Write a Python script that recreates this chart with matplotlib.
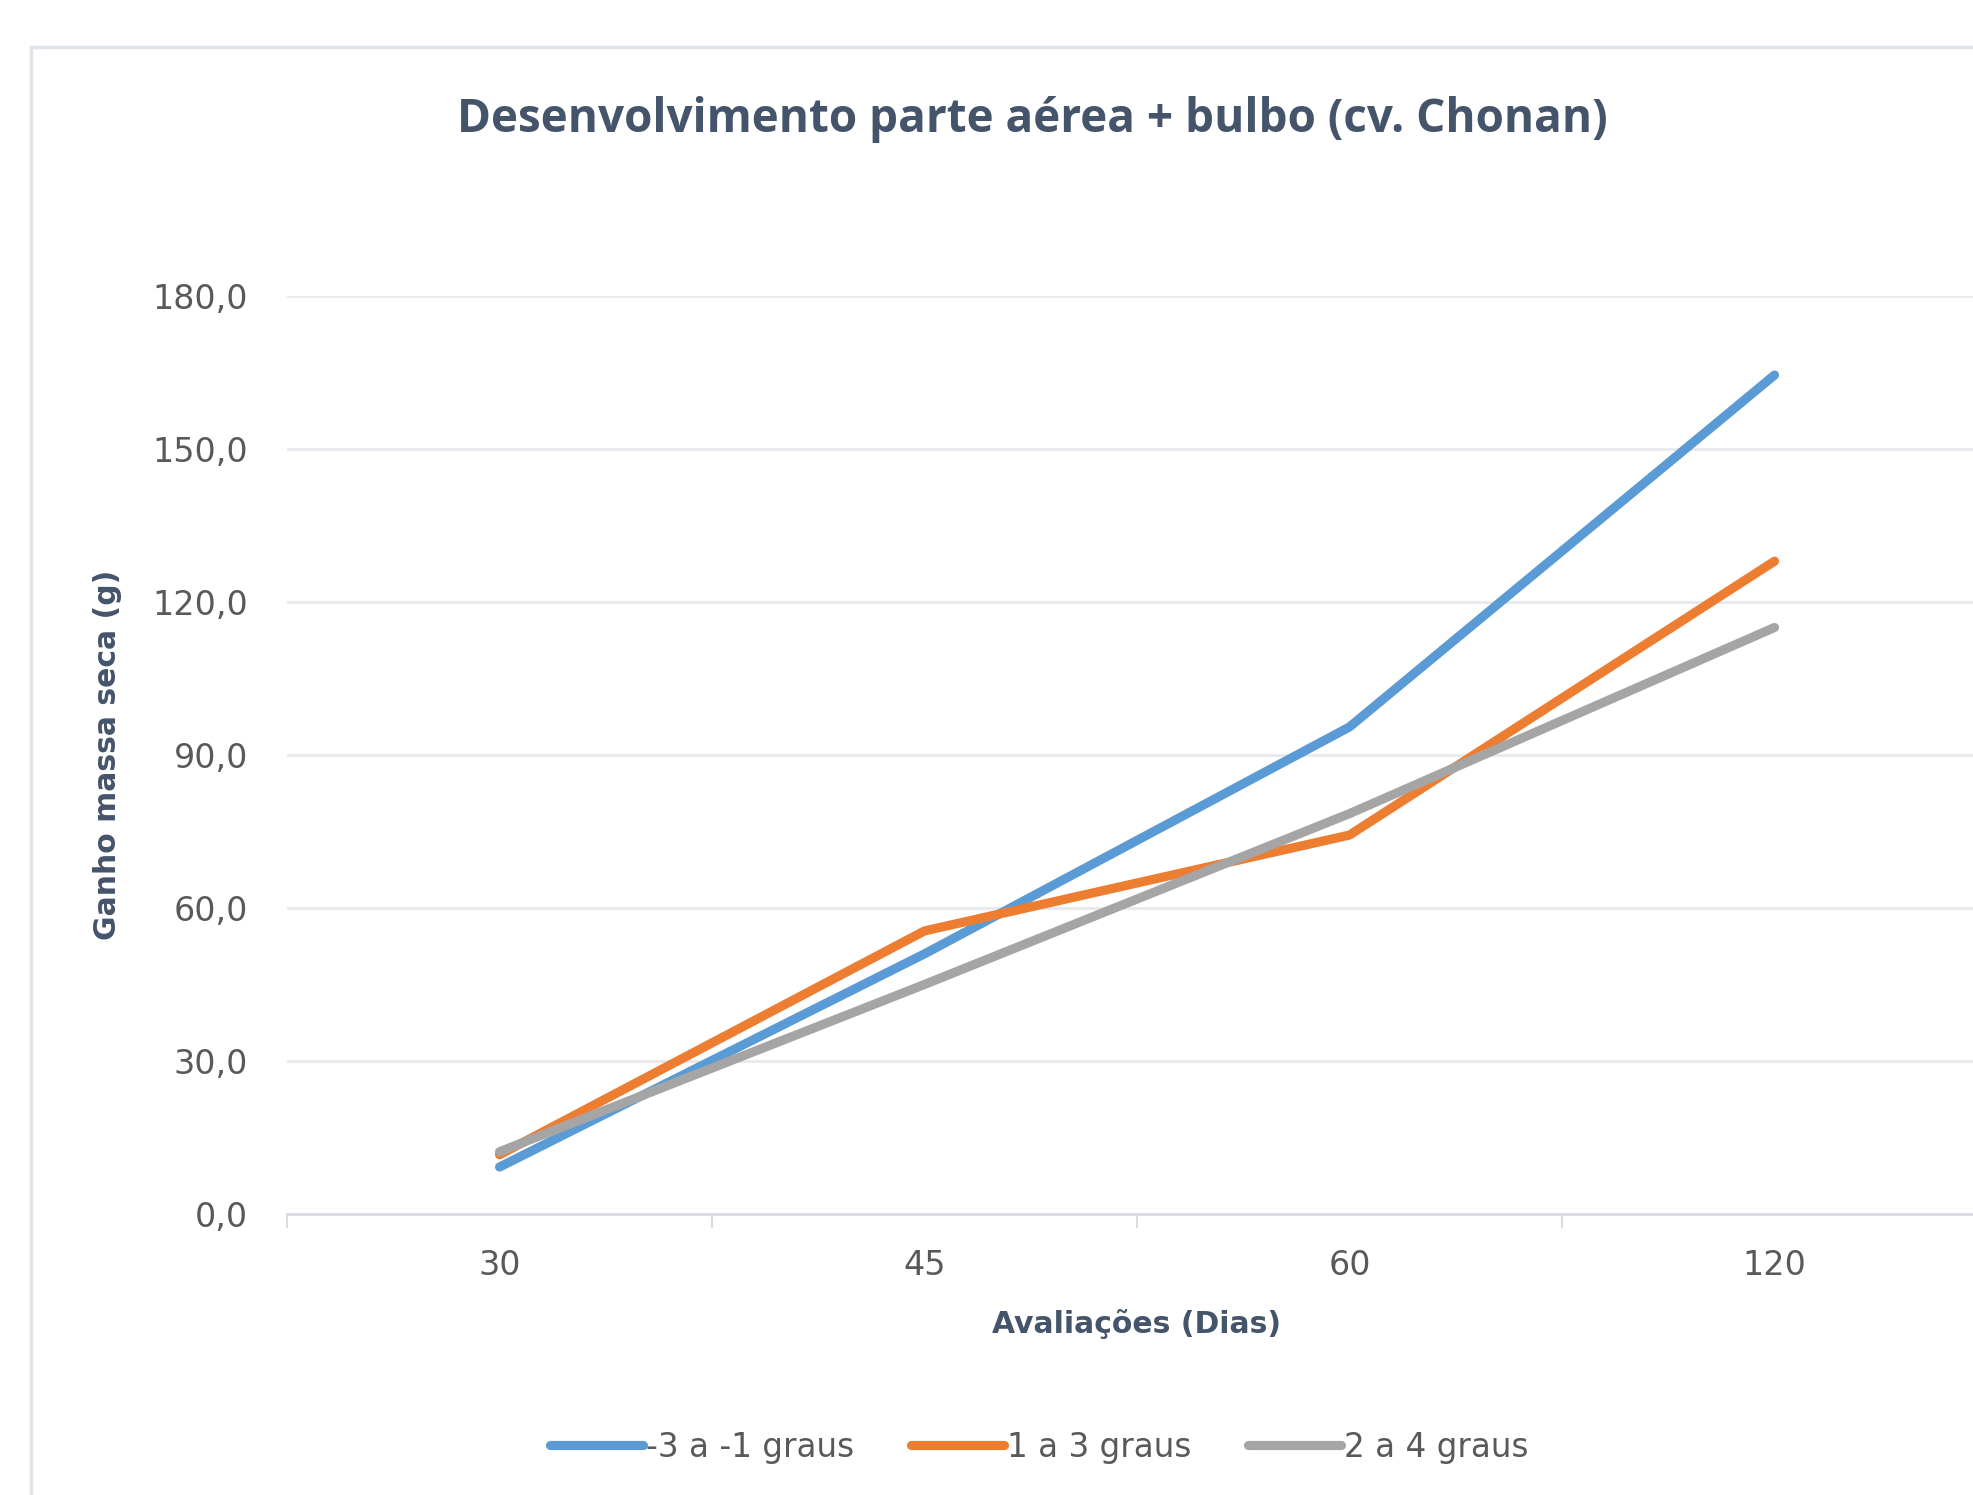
import matplotlib.pyplot as plt
import numpy as np
from matplotlib.patches import Rectangle

# Dry matter gain by evaluation day for each temperature range
dias = ["30", "45", "60", "120"]
serie_nomes = ["-3 a -1 graus", "1 a 3 graus", "2 a 4 graus"]
ganho_frio = [9.2, 51.0, 95.5, 164.5]
ganho_medio = [11.6, 55.5, 74.3, 128.0]
ganho_quente = [12.2, 45.0, 78.5, 115.0]
cores = ["#5b9bd5", "#ed7d31", "#a5a5a5"]

y_ticks = [0, 30, 60, 90, 120, 150, 180]
texto = "#595959"
titulo_cor = "#44546a"

fig = plt.figure(figsize=(19.74, 14.95), dpi=100)
ax = fig.add_axes([0.1454, 0.188, 0.8612, 0.614])

# chart frame
fig.patches.append(Rectangle((31 / 1974, -0.1), 1.2, 1 - 47 / 1495 + 0.1,
                             transform=fig.transFigure, fill=False,
                             edgecolor="#dfe3ea", linewidth=2.5))

x = np.arange(len(dias))
for vals, cor, nome in zip([ganho_frio, ganho_medio, ganho_quente], cores, serie_nomes):
    ax.plot(x, vals, color=cor, linewidth=6.6, solid_capstyle="round",
            solid_joinstyle="round", label=nome, zorder=3)

ax.set_xlim(-0.5, len(dias) - 0.5)
ax.set_ylim(0, 180)
ax.set_yticks(y_ticks)
ax.set_yticklabels([f"{v:.1f}".replace(".", ",") for v in y_ticks])
ax.set_xticks(x)
ax.set_xticklabels(dias)
ax.set_xticks(np.arange(-0.5, len(dias) - 0.4, 1), minor=True)

for s in ["top", "right", "left"]:
    ax.spines[s].set_visible(False)
ax.spines["bottom"].set_color("#d9dce3")
ax.spines["bottom"].set_linewidth(2)
ax.grid(axis="y", color="#e7e9ee", linewidth=2)
ax.set_axisbelow(True)

ax.tick_params(axis="y", length=0, pad=28, labelsize=24, labelcolor=texto)
ax.tick_params(axis="x", which="major", length=0, pad=25, labelsize=24, labelcolor=texto)
ax.tick_params(axis="x", which="minor", length=10, width=1.5, color="#d9dce3")

ax.set_xlabel("Avaliações (Dias)", fontsize=21.5, fontweight="bold", color=titulo_cor, labelpad=20)
ax.set_ylabel("Ganho massa seca (g)", fontsize=21.5, fontweight="bold", color=titulo_cor, labelpad=22)

fig.text(0.523, 0.920, "Desenvolvimento parte aérea + bulbo (cv. Chonan)", ha="center", va="center",
         fontsize=33, fontweight="bold", color=titulo_cor, family="Open Sans")

fig.legend(loc="center", bbox_to_anchor=(0.5265, 0.032), ncol=3, frameon=False,
           fontsize=23.5, labelcolor=texto, handlelength=2.85, handletextpad=0.08, columnspacing=1.75)

fig.savefig("out.png", dpi=100)
